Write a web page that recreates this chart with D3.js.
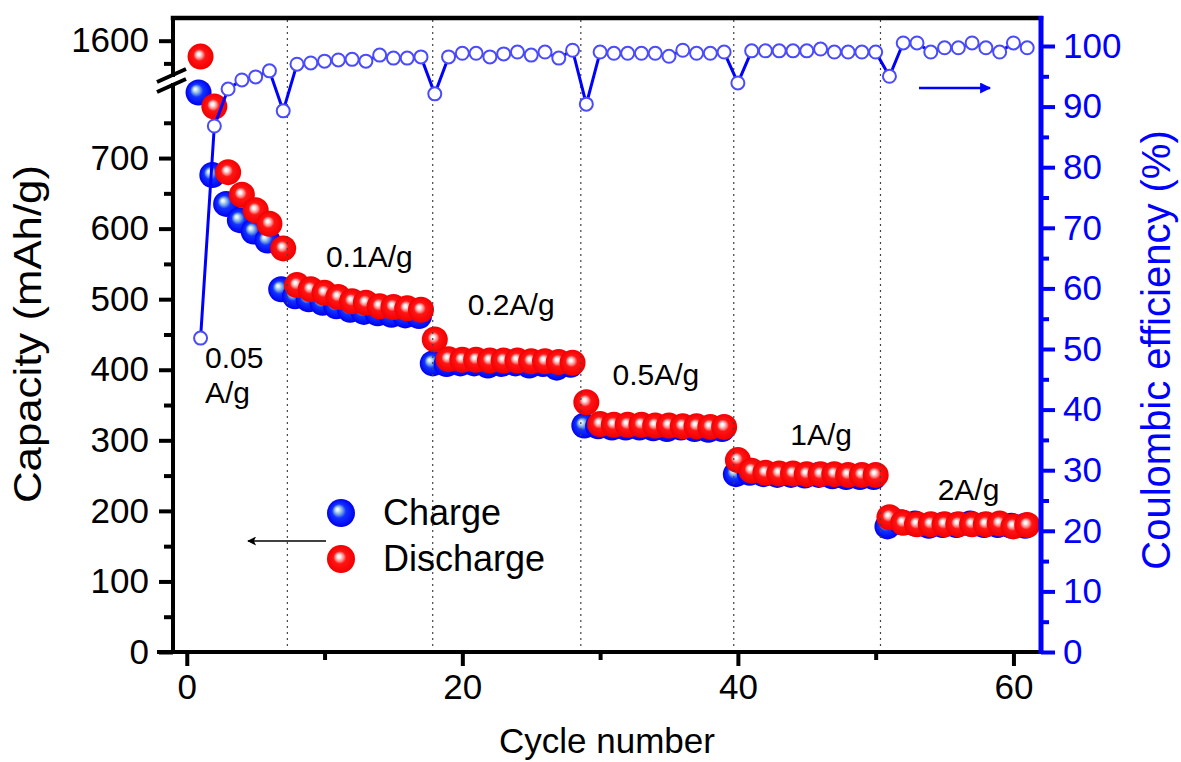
<!DOCTYPE html>
<html>
<head>
<meta charset="utf-8">
<script src="https://cdn.jsdelivr.net/npm/d3@7"></script>
<style>
  html, body { margin: 0; padding: 0; background: #ffffff; }
  svg { display: block; font-family: "Liberation Sans", Arial, sans-serif; }
</style>
</head>
<body>
<svg id="chart" width="1181" height="762"></svg>
<script>
// ---- data -------------------------------------------------------------
const cycles = [1, 2, 3, 4, 5, 6, 7, 8, 9, 10, 11, 12, 13, 14, 15, 16, 17, 18, 19, 20,
  21, 22, 23, 24, 25, 26, 27, 28, 29, 30, 31, 32, 33, 34, 35, 36, 37, 38, 39, 40,
  41, 42, 43, 44, 45, 46, 47, 48, 49, 50, 51, 52, 53, 54, 55, 56, 57, 58, 59, 60, 61];

// charge capacity, mAh/g
const charge = [793, 676, 635, 612, 596, 583, 514,
  504, 500, 495, 490, 485, 482, 480, 478, 477, 476,
  409, 408, 409, 409, 406, 408, 409, 406, 408, 403, 407,
  321, 320, 318, 318, 318, 317, 316, 318, 316, 315, 316,
  252, 254, 252, 251, 251, 250, 251, 249, 248, 248, 248,
  178, 184, 182, 179, 180, 180, 182, 180, 180, 179, 179];

// discharge capacity, mAh/g
const discharge = [1565, 773, 680, 648, 626, 607, 572,
  520, 514, 509, 503, 497, 495, 490, 489, 487, 485,
  443, 415, 414, 414, 413, 413, 413, 412, 412, 411, 410,
  354, 323, 322, 322, 322, 321, 321, 320, 320, 319, 319,
  272, 257, 254, 253, 253, 252, 252, 252, 251, 251, 251,
  191, 183, 181, 181, 181, 181, 181, 181, 182, 178, 180];

// coulombic efficiency, %
const efficiency = [51.8, 86.8, 92.9, 94.4, 94.9, 95.9, 89.3,
  97.0, 97.2, 97.5, 97.7, 97.8, 97.5, 98.5, 98.0, 98.0, 98.2,
  92.1, 98.2, 98.8, 98.8, 98.2, 98.7, 99.0, 98.5, 99.0, 98.0, 99.3,
  90.4, 99.0, 98.8, 98.8, 98.8, 98.8, 98.3, 99.3, 98.8, 98.8, 99.0,
  93.9, 99.2, 99.2, 99.2, 99.2, 99.2, 99.5, 99.0, 99.0, 99.0, 99.0,
  95.0, 100.5, 100.5, 99.0, 99.7, 99.7, 100.5, 99.7, 99.0, 100.5, 99.7];

// current-density steps (cycle where the rate changes) and their labels
const rateBoundaries = [7.3, 17.85, 28.6, 39.7, 50.35];
const rateLabels = ["0.05", "A/g", "0.1A/g", "0.2A/g", "0.5A/g", "1A/g", "2A/g"];

// axis ticks
const xTicks = [0, 20, 40, 60];
const xMinorTicks = [10, 30, 50];
const capTicks = [0, 100, 200, 300, 400, 500, 600, 700];
const capMinorTicks = [50, 150, 250, 350, 450, 550, 650, 750];
const capUpperTicks = [1600];
const capUpperMinorTicks = [1550];
const ceTicks = [0, 10, 20, 30, 40, 50, 60, 70, 80, 90, 100];
const ceMinorTicks = [5, 15, 25, 35, 45, 55, 65, 75, 85, 95];

const legendItems = ["Charge", "Discharge"];

// ---- layout -----------------------------------------------------------
const svg = d3.select("#chart");
const plot = { left: 173, right: 1041, top: 18, bottom: 652 };
const BLUE = "#0000ff";

const x = d3.scaleLinear().domain([-1, 62]).range([plot.left, plot.right]);
// broken capacity axis: a lower part 0-800 and an upper part 1520-1650
const yLow = d3.scaleLinear().domain([0, 800]).range([plot.bottom, 87.5]);
const yHigh = d3.scaleLinear().domain([1520, 1650]).range([77, plot.top]);
const yCap = v => (v >= 1000 ? yHigh(v) : yLow(v));
const yCE = d3.scaleLinear().domain([0, 100]).range([plot.bottom, 46]);

// ---- sphere gradients --------------------------------------------------
const defs = svg.append("defs");
function sphere(id, stops, fx, fy) {
  const g = defs.append("radialGradient").attr("id", id)
    .attr("cx", "50%").attr("cy", "50%").attr("r", "50%")
    .attr("fx", fx).attr("fy", fy);
  stops.forEach(([o, c]) => g.append("stop").attr("offset", o).attr("stop-color", c));
}
sphere("ballRed", [[0, "#ffffff"], [0.12, "#fff2f2"], [0.3, "#ff8a8a"], [0.46, "#ff1414"], [1, "#f20000"]], "42%", "40%");
sphere("ballBlue", [[0, "#ffffff"], [0.12, "#d8ecf8"], [0.3, "#76a6e2"], [0.5, "#1232ff"], [1, "#0000ee"]], "36%", "36%");

const rows = cycles.map((c, i) => ({ c, ch: charge[i], dis: discharge[i], ce: efficiency[i] }));

// ---- capacity spheres --------------------------------------------------
const R = 13;
svg.append("g").selectAll("circle").data(rows).join("circle")
  .attr("cx", d => x(d.c) - 2).attr("cy", d => yCap(d.ch)).attr("r", R)
  .attr("fill", "url(#ballBlue)");
svg.append("g").selectAll("circle").data(rows).join("circle")
  .attr("cx", d => x(d.c)).attr("cy", d => yCap(d.dis)).attr("r", R)
  .attr("fill", "url(#ballRed)");

// ---- rate boundaries ---------------------------------------------------
svg.append("g").selectAll("line").data(rateBoundaries).join("line")
  .attr("x1", d => x(d)).attr("x2", d => x(d))
  .attr("y1", plot.bottom).attr("y2", plot.top)
  .attr("stroke", "#444").attr("stroke-width", 1.2).attr("stroke-dasharray", "2,4");

// ---- coulombic efficiency ----------------------------------------------
svg.append("path").datum(rows)
  .attr("d", d3.line().x(d => x(d.c)).y(d => yCE(d.ce)))
  .attr("fill", "none").attr("stroke", BLUE).attr("stroke-width", 3);
svg.append("g").selectAll("circle").data(rows).join("circle")
  .attr("cx", d => x(d.c)).attr("cy", d => yCE(d.ce)).attr("r", 6.5)
  .attr("fill", "#ffffff").attr("stroke", "#4a4aff").attr("stroke-width", 2);

// ---- axes ---------------------------------------------------------------
function styleAxis(g, color, width, fontSize) {
  g.select(".domain").remove();
  g.selectAll(".tick line").attr("stroke", color).attr("stroke-width", width);
  g.selectAll(".tick text").attr("fill", color).attr("font-size", fontSize)
    .attr("font-family", "Liberation Sans, Arial, sans-serif");
}
const TICK_FONT = 35;

// left, lower segment
svg.append("g").attr("transform", `translate(${plot.left},0)`)
  .call(d3.axisLeft(yLow).tickValues(capTicks).tickSize(14).tickPadding(10).tickFormat(d3.format("d")))
  .call(g => styleAxis(g, "#000", 4, TICK_FONT));
svg.append("g").attr("transform", `translate(${plot.left},0)`)
  .call(d3.axisLeft(yLow).tickValues(capMinorTicks).tickSize(9).tickFormat(""))
  .call(g => styleAxis(g, "#000", 4, TICK_FONT));
// left, upper segment
svg.append("g").attr("transform", `translate(${plot.left},0)`)
  .call(d3.axisLeft(yHigh).tickValues(capUpperTicks).tickSize(14).tickPadding(10).tickFormat(d3.format("d")))
  .call(g => styleAxis(g, "#000", 4, TICK_FONT));
svg.append("g").attr("transform", `translate(${plot.left},0)`)
  .call(d3.axisLeft(yHigh).tickValues(capUpperMinorTicks).tickSize(9).tickFormat(""))
  .call(g => styleAxis(g, "#000", 4, TICK_FONT));

// bottom
svg.append("g").attr("transform", `translate(0,${plot.bottom})`)
  .call(d3.axisBottom(x).tickValues(xTicks).tickSize(14).tickPadding(8).tickFormat(d3.format("d")))
  .call(g => styleAxis(g, "#000", 4, TICK_FONT));
svg.append("g").attr("transform", `translate(0,${plot.bottom})`)
  .call(d3.axisBottom(x).tickValues(xMinorTicks).tickSize(8).tickFormat(""))
  .call(g => styleAxis(g, "#000", 4, TICK_FONT));

// right (efficiency)
svg.append("g").attr("transform", `translate(${plot.right},0)`)
  .call(d3.axisRight(yCE).tickValues(ceTicks).tickSize(14).tickPadding(8).tickFormat(d3.format("d")))
  .call(g => styleAxis(g, BLUE, 4, TICK_FONT));
svg.append("g").attr("transform", `translate(${plot.right},0)`)
  .call(d3.axisRight(yCE).tickValues(ceMinorTicks).tickSize(8).tickFormat(""))
  .call(g => styleAxis(g, BLUE, 4, TICK_FONT));

// frame lines
const frame = svg.append("g").attr("stroke-linecap", "square");
frame.append("line").attr("x1", plot.left - 14).attr("x2", plot.right)
  .attr("y1", plot.bottom).attr("y2", plot.bottom).attr("stroke", "#000").attr("stroke-width", 4);
frame.append("line").attr("x1", plot.left).attr("x2", plot.right)
  .attr("y1", plot.top).attr("y2", plot.top).attr("stroke", "#000").attr("stroke-width", 4.5);
frame.append("line").attr("x1", plot.left).attr("x2", plot.left)
  .attr("y1", plot.bottom).attr("y2", 85).attr("stroke", "#000").attr("stroke-width", 4);
frame.append("line").attr("x1", plot.left).attr("x2", plot.left)
  .attr("y1", 75).attr("y2", plot.top).attr("stroke", "#000").attr("stroke-width", 4);
frame.append("line").attr("x1", plot.right).attr("x2", plot.right)
  .attr("y1", plot.bottom + 2).attr("y2", plot.top - 2).attr("stroke", BLUE).attr("stroke-width", 5)
  .attr("stroke-linecap", "butt");
// axis break marks
[0, 10].forEach(dy => {
  frame.append("line")
    .attr("x1", plot.left - 16).attr("y1", 82 + dy)
    .attr("x2", plot.left + 13).attr("y2", 69 + dy)
    .attr("stroke", "#000").attr("stroke-width", 4).attr("stroke-linecap", "butt");
});

// ---- axis titles ---------------------------------------------------------
svg.append("text").attr("x", 607).attr("y", 753).attr("text-anchor", "middle")
  .attr("font-size", 35).attr("fill", "#000").text("Cycle number");
svg.append("text").attr("transform", "translate(41,334) rotate(-90)").attr("text-anchor", "middle")
  .attr("font-size", 39).attr("textLength", 338).attr("lengthAdjust", "spacingAndGlyphs")
  .attr("fill", "#000").text("Capacity (mAh/g)");
svg.append("text").attr("transform", "translate(1170,350) rotate(-90)").attr("text-anchor", "middle")
  .attr("font-size", 40).attr("fill", BLUE).text("Coulombic efficiency (%)");

// ---- rate annotations (anchored in data units) -------------------------
const labelAnchors = [[1.32, 402], [1.32, 353], [10.1, 545], [20.4, 477], [30.9, 378], [43.8, 293], [54.5, 215]];
svg.append("g").selectAll("text").data(rateLabels).join("text")
  .attr("x", (d, i) => x(labelAnchors[i][0])).attr("y", (d, i) => yLow(labelAnchors[i][1]))
  .attr("font-size", 30).attr("fill", "#000").text(d => d);

// ---- direction arrows ---------------------------------------------------
defs.append("marker").attr("id", "headBlack").attr("viewBox", "0 0 10 10")
  .attr("refX", 9).attr("refY", 5).attr("markerWidth", 16).attr("markerHeight", 9)
  .attr("markerUnits", "userSpaceOnUse").attr("orient", "auto")
  .append("path").attr("d", "M0,0 L10,5 L0,10 L2.5,5 Z").attr("fill", "#000");
defs.append("marker").attr("id", "headBlue").attr("viewBox", "0 0 10 10")
  .attr("refX", 9).attr("refY", 5).attr("markerWidth", 20).attr("markerHeight", 11)
  .attr("markerUnits", "userSpaceOnUse").attr("orient", "auto")
  .append("path").attr("d", "M0,0 L10,5 L0,10 Z").attr("fill", BLUE);
svg.append("line").attr("x1", 326).attr("y1", 541).attr("x2", 248).attr("y2", 541)
  .attr("stroke", "#000").attr("stroke-width", 1.5).attr("marker-end", "url(#headBlack)");
svg.append("line").attr("x1", 919).attr("y1", 88).attr("x2", 990).attr("y2", 88)
  .attr("stroke", BLUE).attr("stroke-width", 2.4).attr("marker-end", "url(#headBlue)");

// ---- legend ----------------------------------------------------------------
const legend = svg.append("g").attr("transform", "translate(341,513)");
legend.selectAll("circle").data(legendItems).join("circle")
  .attr("cx", 0).attr("cy", (d, i) => i * 46).attr("r", 14)
  .attr("fill", (d, i) => (i === 0 ? "url(#ballBlue)" : "url(#ballRed)"));
legend.selectAll("text").data(legendItems).join("text")
  .attr("x", 42).attr("y", (d, i) => i * 46 + 12)
  .attr("font-size", 36).attr("fill", "#000").text(d => d);
</script>
</body>
</html>
